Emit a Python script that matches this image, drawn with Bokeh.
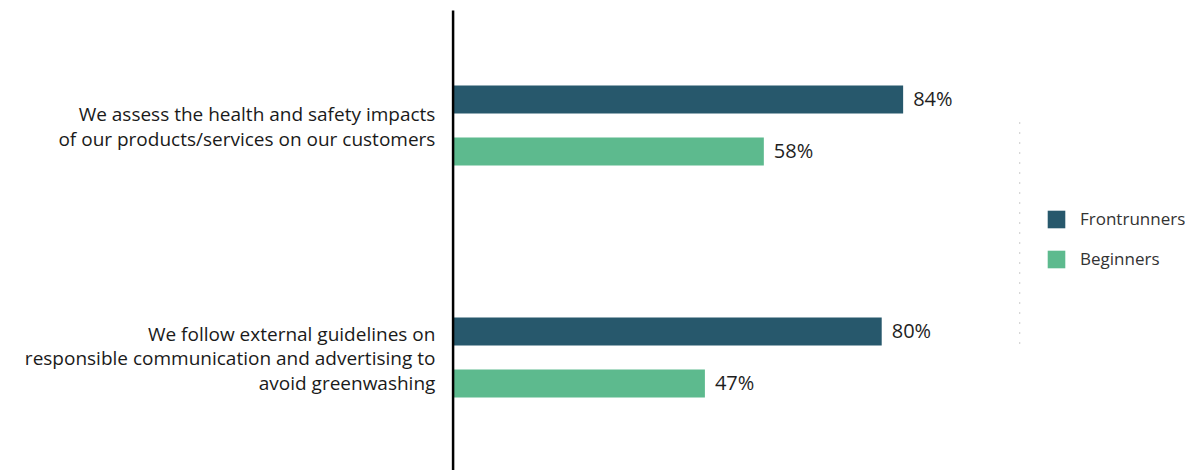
from bokeh.plotting import figure
from bokeh.models import Range1d, Legend, LegendItem, ColumnDataSource
from bokeh.core.properties import value
from bokeh.embed import file_html
from bokeh.resources import INLINE

# ---- data ----
categories = [
    "We assess the health and safety impacts\nof our products/services on our customers",
    "We follow external guidelines on\nresponsible communication and advertising to\navoid greenwashing",
]
series_names = ["Frontrunners", "Beginners"]
frontrunners = [84, 80]
beginners = [58, 47]
colors = ["#27586c", "#5dba8e"]

# ---- layout constants (pixels) ----
W, H = 1185, 470
TOP = 99        # centre of first bar
GROUP = 232     # distance between category groups
SUB = 52        # distance between bars inside group
BAR_H = 28
FONT = "Open Sans"

p = figure(width=W, height=H, output_backend="svg", toolbar_location=None,
           x_range=Range1d(-84.47, 136.7), y_range=Range1d(H, 0),
           min_border=0, outline_line_color=None)
p.xaxis.visible = False
p.yaxis.visible = False
p.xgrid.visible = False
p.ygrid.visible = False
p.background_fill_color = "white"
p.border_fill_color = "white"

renderers = []
for j, (name, vals) in enumerate(zip(series_names, [frontrunners, beginners])):
    ys = [TOP + i * GROUP + j * SUB for i in range(len(categories))]
    src = ColumnDataSource(dict(y=ys, right=vals, lab=[f"{v}%" for v in vals]))
    r = p.hbar(y="y", left=0, right="right", height=BAR_H, source=src,
               fill_color=colors[j], line_color=None)
    renderers.append(r)
    p.text(x="right", y="y", text="lab", source=src, x_offset=10, y_offset=-1,
           text_baseline="middle", text_align="left", text_font=value(FONT),
           text_font_size="20px", text_color="#1e1e1e")

# category labels
cy = [TOP + i * GROUP + SUB / 2 + 1 for i in range(len(categories))]
p.text(x=[-3.3] * len(categories), y=cy, text=categories, text_align="right",
       text_baseline="middle", text_font=value(FONT), text_font_size="19px",
       text_line_height=0.93, text_color="#1a1a1a")

# axis line at zero
p.segment(x0=[0], y0=[10], x1=[0], y1=[H], line_color="black", line_width=2.5)

# dotted separator by legend
p.segment(x0=[105.75], y0=[122], x1=[105.75], y1=[350], line_color="#aaaaaa",
          line_width=1.2, line_dash="1 9")

legend = Legend(items=[LegendItem(label=n, renderers=[r]) for n, r in zip(series_names, renderers)],
                location=(1045, 200), padding=0, margin=0, spacing=17,
                glyph_width=22, glyph_height=22, label_standoff=13,
                label_text_font=FONT, label_text_font_size="17px",
                label_text_color="#333333", border_line_color=None,
                background_fill_alpha=0)
p.add_layout(legend)

open("out.html", "w").write(file_html(p, INLINE))
